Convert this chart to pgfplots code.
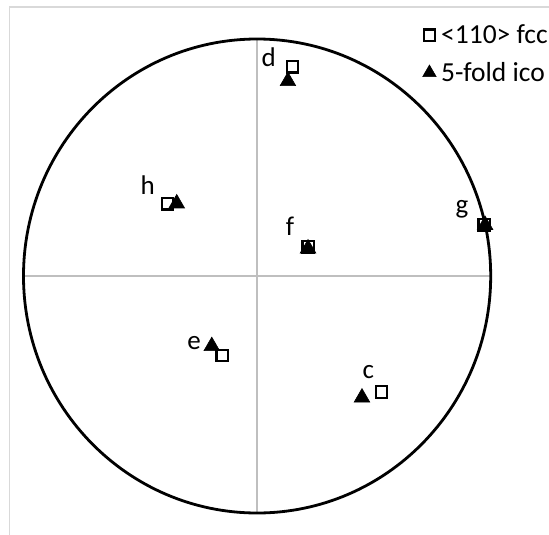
\documentclass[border=0pt]{standalone}
\usepackage{pgfplots}
\pgfplotsset{compat=1.18}
\usepackage{fontspec}
\setmainfont{Carlito}

\definecolor{crossgray}{RGB}{191,191,191}
\definecolor{framegray}{RGB}{217,217,217}

% pole figure positions (unit circle = projection boundary)
\pgfplotstableread{
x      y      lab
0.152  0.883  d
-0.384 0.305  h
0.219  0.122  f
0.972  0.216  g
0.533  -0.490 c
}\fccdata
\pgfplotstableread{
x      y
0.132  0.822
-0.344 0.306
0.218  0.116
0.976  0.215
-0.194 -0.296
0.449  -0.513
}\icodata

\begin{document}
\begin{tikzpicture}
\begin{axis}[
    width=549pt, height=535pt,
    scale only axis,
    hide axis,
    clip=false,
    xmin=-1.1006, xmax=1.2496,
    ymin=-1.0928, ymax=1.1646,
    legend style={
        at={(axis cs:0.708,1.068)},
        anchor=north west,
        draw=none, fill=none,
        inner sep=0pt,
        row sep=13pt,
        font=\fontsize{27.5}{32}\selectfont,
        /tikz/every odd column/.append style={column sep=3pt},
    },
    legend cell align=left,
]

% frame lines of the chart area
\draw[framegray, line width=1.5pt] (axis cs:-1.060,-1.0928) -- (axis cs:-1.060,1.135) -- (axis cs:1.2496,1.135);

% crosshair
\draw[crossgray, line width=2pt] (axis cs:0,-1) -- (axis cs:0,1);
\draw[crossgray, line width=2pt] (axis cs:-1,0) -- (axis cs:1,0);

% projection circle
\draw[black, line width=2.8pt] (axis cs:0,0) ellipse [x radius=1, y radius=1];

\addlegendimage{only marks, mark=square, mark size=5.6pt, mark options={draw=black, fill=white, line width=2.4pt}}
\addlegendentry{<110> fcc}
\addlegendimage{only marks, mark=triangle*, mark size=7.8pt, mark options={draw=black, fill=black, line width=0.5pt}}
\addlegendentry{5-fold ico}

\addplot[only marks, mark=square*, mark size=5.75pt,
    mark options={draw=black, fill=white, line width=2.2pt}, forget plot]
    table[x=x, y=y] {\fccdata};

\addplot[only marks, mark=triangle*, mark size=9pt,
    mark options={draw=black, fill=black, line width=0.6pt}, forget plot]
    table[x=x, y=y] {\icodata};

% square e sits on top of its triangle
\addplot[only marks, mark=square*, mark size=5.75pt,
    mark options={draw=black, fill=white, line width=2.2pt}, forget plot]
    coordinates {(-0.149,-0.335)};

\begin{scope}[font=\fontsize{27}{31}\selectfont]
\node[anchor=base] at (axis cs:0.050,0.886) {d};
\node[anchor=base] at (axis cs:-0.468,0.342) {h};
\node[anchor=base] at (axis cs:0.141,0.173) {f};
\node[anchor=base] at (axis cs:0.877,0.265) {g};
\node[anchor=base] at (axis cs:-0.270,-0.312) {e};
\node[anchor=base] at (axis cs:0.476,-0.432) {c};
\end{scope}

\end{axis}
\pgfresetboundingbox
\path (current axis.south west) rectangle (current axis.north east);
\end{tikzpicture}
\end{document}
